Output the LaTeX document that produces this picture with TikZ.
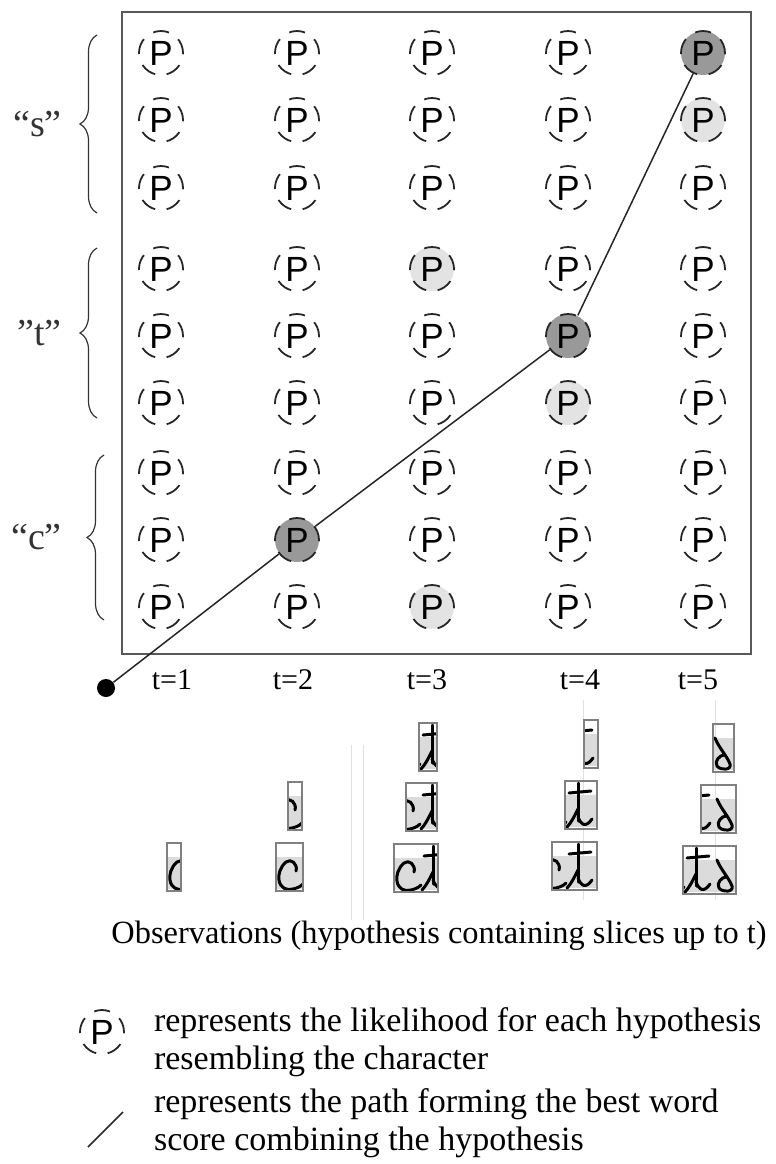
\documentclass[tikz,border=0pt]{standalone}
\usepackage{fontspec}
\setmainfont{Liberation Serif}
\newfontfamily\hypfont{Liberation Sans}
\usepackage{tikz}
\usetikzlibrary{decorations.pathreplacing}

\definecolor{bestfill}{gray}{0.6}
\definecolor{goodfill}{gray}{0.89}
\definecolor{slicefill}{gray}{0.86}

\tikzset{
  hyp/.style={circle, draw=black!85, line width=0.9pt, dash pattern=on 8pt off 5.8pt, dash phase=0.6pt,
    minimum size=22pt, inner sep=0pt, font=\hypfont\fontsize{17.5}{18}\selectfont},
  best/.style={fill=bestfill},
  good/.style={fill=goodfill},
  hl51/.style={best}, hl45/.style={best}, hl28/.style={best},
  hl52/.style={good}, hl34/.style={good}, hl46/.style={good}, hl39/.style={good},
  bestpath/.style={line width=0.75pt, black!85},
  grp/.style={decorate, decoration={brace, amplitude=8.5pt}, line width=0.6pt, black!80},
  grplab/.style={font=\fontsize{19}{21}\selectfont},
  tlab/.style={anchor=base, font=\fontsize{15}{17}\selectfont},
  txt/.style={align=left, font=\fontsize{17}{19}\selectfont},
  ink/.style={line width=1.5pt, line cap=round, line join=round},
  slice/.style={draw=black!50, line width=0.7pt},
  faint/.style={black!12, line width=0.5pt}
}

% the handwritten word, slice columns 0..79, rows 0..48
\newcommand{\inkword}{%
  \draw[ink] (20,28) .. controls (22,21) and (15,15) .. (10,19) .. controls (4,24) and (2,32) .. (3,37)
    .. controls (4,45) and (11,48) .. (17,46) .. controls (21,45) and (24,44) .. (27,41); % c
  \draw[ink] (39,2) -- (39,40);  % t
  \draw[ink] (30,12) -- (52,10);
  \draw[ink] (39,28) .. controls (35,36) and (32,42) .. (28,46);
  \draw[ink] (39,36) .. controls (42,44) and (47,47) .. (53,38);
  \draw[ink] (60,14) .. controls (64,24) and (72,32) .. (75,40) .. controls (77,46) and (66,47) .. (62,42)
    .. controls (59,37) and (65,31) .. (69,31); % s
}
% #1,#2 top left corner, #3 to #4 the slices of the word it holds
\newcommand{\obsbox}[4]{%
  \begin{scope}
    \clip (#1,#2) rectangle ++({#4-#3},48);
    \fill[slicefill] (#1,{#2+14}) rectangle ++({#4-#3},32);
    \begin{scope}[shift={({#1-#3},#2)}]
      \inkword
    \end{scope}
  \end{scope}
  \draw[slice] (#1,#2) rectangle ++({#4-#3},48);
}

\begin{document}
\begin{tikzpicture}[x=0.5pt,y=-0.5pt]
\useasboundingbox (0,0) rectangle (776,1164);
\draw[black!65, line width=0.8pt] (122,12) rectangle (751,654);

% hypotheses
\foreach \col/\cx in {1/161,2/297,3/432,4/568,5/703}
  \foreach \row/\ry in {1/53,2/120,3/188,4/269,5/336,6/403,7/473,8/540,9/607}
    \node[hyp, hl\col\row/.try] (p\col\row) at (\cx,\ry) {P};

\node[circle, fill=black, inner sep=0pt, minimum size=9pt] (start) at (106,688) {};
\draw[bestpath] (start) -- (p28) -- (p45) -- (p51);

\draw[grp] (97,213) -- (97,35) node[midway, left=14pt, grplab] (ls) {``s''};
\draw[grp] (97,418) -- (97,248) node[midway, left=14pt, grplab] (lt) {''t''};
\draw[grp] (104,620) -- (104,455) node[midway, left=17.5pt, grplab] (lc) {``c''};

\node[tlab] (t1) at (172,689) {t=1};
\node[tlab] (t2) at (293,689) {t=2};
\node[tlab] (t3) at (427,689) {t=3};
\node[tlab] (t4) at (580,689) {t=4};
\node[tlab] (t5) at (698,689) {t=5};

% observations
\draw[faint] (351,745) -- (351,920);
\draw[faint] (363,745) -- (363,920);
\draw[faint] (583,700) -- (583,900);
\draw[faint] (715,700) -- (715,900);
\obsbox{167}{843}{0}{14}
\obsbox{288}{782}{13}{27}
\obsbox{276}{843}{0}{27}
\obsbox{419}{723}{26}{44}
\obsbox{406}{783}{13}{44}
\obsbox{394}{844}{0}{44}
\obsbox{584}{720}{44}{58}
\obsbox{565}{781}{26}{58}
\obsbox{552}{842}{13}{58}
\obsbox{713}{724}{58}{79}
\obsbox{701}{785}{44}{79}
\obsbox{683}{846}{26}{79}
\node[txt, anchor=base, font=\fontsize{16.2}{19}\selectfont] (obs) at (439,943) {Observations (hypothesis containing slices up to t)};

% legend
\node[hyp] (lp) at (102,1032) {P};
\node[txt, anchor=base west] (l1) at (147,1069) {represents the likelihood for each hypothesis\\resembling the character};
\coordinate (sa) at (88,1147);
\coordinate (sb) at (123,1112);
\draw[bestpath] (sa) -- (sb);
\node[txt, anchor=base west] (l2) at (147,1150) {represents the path forming the best word\\score combining the hypothesis};
\end{tikzpicture}
\end{document}
